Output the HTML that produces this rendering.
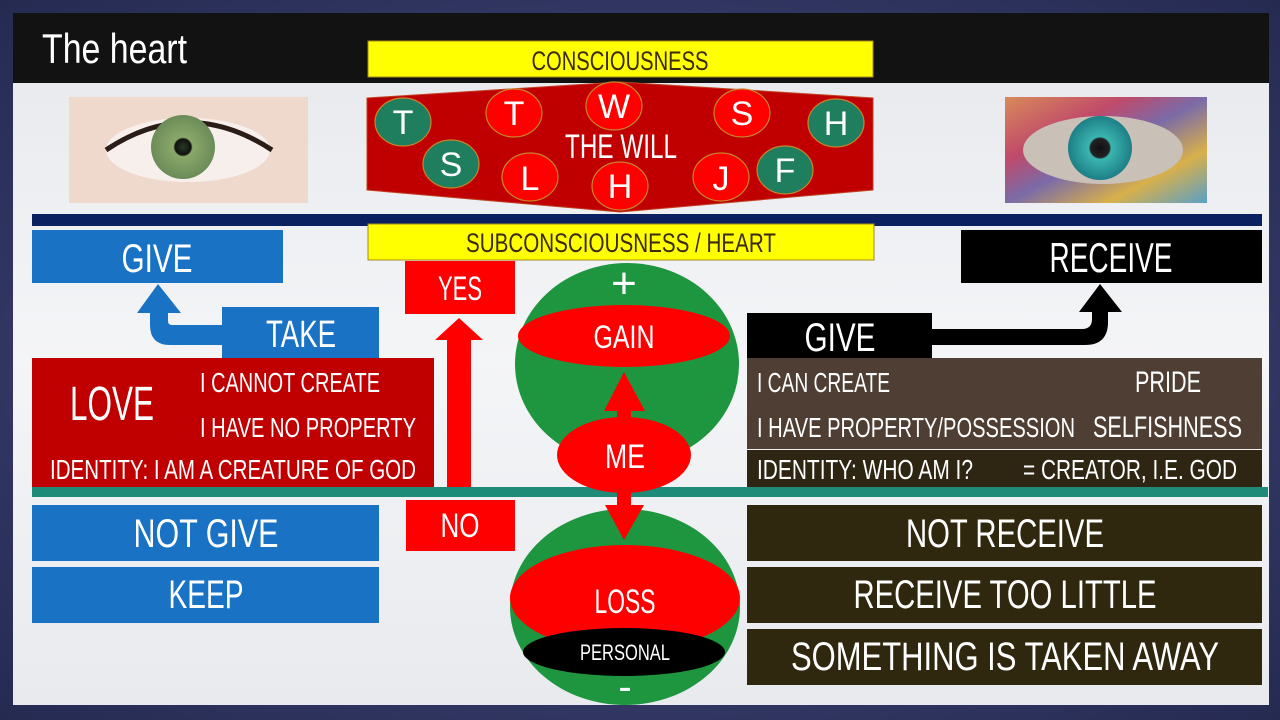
<!DOCTYPE html>
<html><head><meta charset="utf-8"><style>
html,body{margin:0;padding:0;width:1280px;height:720px;overflow:hidden;background:#2e3560}
svg{display:block}
text{font-family:"Liberation Sans Narrow","Liberation Sans",sans-serif;fill:#fff}
</style></head><body>
<svg width="1280" height="720" viewBox="0 0 1280 720" xmlns="http://www.w3.org/2000/svg">
<defs>
<radialGradient id="bg" cx="50%" cy="50%" r="75%"><stop offset="0" stop-color="#4a4f86"/><stop offset="1" stop-color="#23284e"/></radialGradient>
<linearGradient id="pane" x1="0" y1="0" x2="0" y2="1"><stop offset="0" stop-color="#e6e8ec"/><stop offset="0.5" stop-color="#f4f5f7"/><stop offset="1" stop-color="#e8eaee"/></linearGradient>
<radialGradient id="iris1"><stop offset="0" stop-color="#2a3a20"/><stop offset="0.25" stop-color="#111"/><stop offset="0.3" stop-color="#8aa86a"/><stop offset="1" stop-color="#6b8c58"/></radialGradient>
<radialGradient id="iris2"><stop offset="0" stop-color="#111"/><stop offset="0.3" stop-color="#222"/><stop offset="0.35" stop-color="#3bb5b0"/><stop offset="1" stop-color="#1d7f86"/></radialGradient>
<linearGradient id="mosaic" x1="0" y1="0" x2="1" y2="1"><stop offset="0" stop-color="#d98a5a"/><stop offset="0.3" stop-color="#c04a6a"/><stop offset="0.5" stop-color="#7a6aa8"/><stop offset="0.75" stop-color="#d8b04a"/><stop offset="1" stop-color="#5aa0c8"/></linearGradient>
</defs>
<rect width="1280" height="720" fill="url(#bg)"/>
<rect x="13" y="13" width="1256" height="692" fill="url(#pane)"/>
<rect x="13" y="13" width="1256" height="70" fill="#121212"/>
<text x="42" y="63" font-size="42" textLength="145" lengthAdjust="spacingAndGlyphs">The heart</text>

<rect x="69" y="97" width="239" height="106" fill="#efd9cc"/>
<ellipse cx="188" cy="150" rx="82" ry="32" fill="#f7efec"/>
<path d="M106 150 Q188 95 272 150" stroke="#2a1c16" stroke-width="5" fill="none"/>
<circle cx="183" cy="147" r="32" fill="url(#iris1)"/>
<rect x="1005" y="97" width="202" height="106" fill="url(#mosaic)"/>
<ellipse cx="1103" cy="150" rx="80" ry="34" fill="#c9c0b8"/>
<circle cx="1100" cy="148" r="32" fill="url(#iris2)"/>

<rect x="368" y="41" width="505" height="36" fill="#ffff00" stroke="#a88a1a" stroke-width="1"/>
<text x="620" y="70" font-size="27" text-anchor="middle" style="fill:#3a2a10" textLength="177" lengthAdjust="spacingAndGlyphs">CONSCIOUSNESS</text>

<polygon points="367,98 620,82 873,98 873,190 620,212 367,190" fill="#c00000" stroke="#c04020" stroke-width="1"/>
<g stroke="#c8842a" stroke-width="1.2">
<ellipse cx="403" cy="122" rx="28" ry="24" fill="#1e7e5e"/>
<ellipse cx="451" cy="164" rx="28" ry="24" fill="#1e7e5e"/>
<ellipse cx="514" cy="113" rx="28" ry="24" fill="#ff0000"/>
<ellipse cx="530" cy="177" rx="28" ry="24" fill="#ff0000"/>
<ellipse cx="614" cy="106" rx="28" ry="24" fill="#ff0000"/>
<ellipse cx="620" cy="186" rx="28" ry="24" fill="#ff0000"/>
<ellipse cx="742" cy="113" rx="28" ry="24" fill="#ff0000"/>
<ellipse cx="721" cy="177" rx="28" ry="24" fill="#ff0000"/>
<ellipse cx="785" cy="170" rx="28" ry="24" fill="#1e7e5e"/>
<ellipse cx="836" cy="123" rx="28" ry="24" fill="#1e7e5e"/>
</g>
<g font-size="34" text-anchor="middle">
<text x="403" y="134">T</text><text x="451" y="176">S</text><text x="514" y="125">T</text>
<text x="530" y="190">L</text><text x="614" y="118">W</text><text x="620" y="198">H</text>
<text x="742" y="125">S</text><text x="721" y="190">J</text><text x="785" y="182">F</text><text x="836" y="135">H</text>
</g>
<text x="621" y="158" font-size="34" text-anchor="middle" textLength="112" lengthAdjust="spacingAndGlyphs">THE WILL</text>

<rect x="32" y="214" width="1230" height="12" fill="#0b2060"/>

<ellipse cx="627" cy="364" rx="112" ry="101" fill="#1e9640"/>

<rect x="368" y="224" width="506" height="36" fill="#ffff00" stroke="#a88a1a" stroke-width="1"/>
<text x="621" y="252" font-size="27" text-anchor="middle" style="fill:#3a2a10" textLength="310" lengthAdjust="spacingAndGlyphs">SUBCONSCIOUSNESS / HEART</text>

<rect x="32" y="230" width="251" height="53" fill="#1a72c4"/>
<text x="157" y="272" font-size="40" text-anchor="middle" textLength="71" lengthAdjust="spacingAndGlyphs">GIVE</text>
<path d="M150 313 V325 Q150 345 170 345 H222 V325 H172 Q168 325 168 321 V313 H181 L158 284 L137 313 Z" fill="#1a72c4"/>
<rect x="222" y="307" width="157" height="51" fill="#1a72c4"/>
<text x="301" y="347" font-size="38" text-anchor="middle" textLength="70" lengthAdjust="spacingAndGlyphs">TAKE</text>
<rect x="32" y="358" width="402" height="129" fill="#c00000"/>
<text x="70" y="420" font-size="48" textLength="84" lengthAdjust="spacingAndGlyphs">LOVE</text>
<text x="200" y="392" font-size="28" textLength="180" lengthAdjust="spacingAndGlyphs">I CANNOT CREATE</text>
<text x="200" y="437" font-size="28" textLength="216" lengthAdjust="spacingAndGlyphs">I HAVE NO PROPERTY</text>
<text x="50" y="479" font-size="28" textLength="366" lengthAdjust="spacingAndGlyphs">IDENTITY: I AM A CREATURE OF GOD</text>
<rect x="32" y="505" width="347" height="56" fill="#1a72c4"/>
<text x="206" y="547" font-size="40" text-anchor="middle" textLength="145" lengthAdjust="spacingAndGlyphs">NOT GIVE</text>
<rect x="32" y="567" width="347" height="56" fill="#1a72c4"/>
<text x="206" y="608" font-size="40" text-anchor="middle" textLength="75" lengthAdjust="spacingAndGlyphs">KEEP</text>

<rect x="405" y="261" width="110" height="53" fill="#ff0000"/>
<text x="460" y="300" font-size="34" text-anchor="middle" textLength="44" lengthAdjust="spacingAndGlyphs">YES</text>
<polygon points="447,487 447,340 435,340 459,318 483,340 471,340 471,487" fill="#ff0000"/>
<rect x="406" y="500" width="109" height="51" fill="#ff0000"/>
<text x="460" y="537" font-size="34" text-anchor="middle" textLength="39" lengthAdjust="spacingAndGlyphs">NO</text>

<text x="624" y="298" font-size="44" text-anchor="middle">+</text>
<ellipse cx="624" cy="336" rx="106" ry="31" fill="#ff0000"/>
<text x="624" y="348" font-size="32" text-anchor="middle" textLength="61" lengthAdjust="spacingAndGlyphs">GAIN</text>

<ellipse cx="625" cy="607" rx="115" ry="98" fill="#1e9640"/>
<ellipse cx="625" cy="598" rx="115" ry="53" fill="#ff0000"/>
<ellipse cx="624" cy="652" rx="101" ry="24" fill="#000"/>
<text x="625" y="613" font-size="34" text-anchor="middle" textLength="61" lengthAdjust="spacingAndGlyphs">LOSS</text>
<text x="625" y="660" font-size="22" text-anchor="middle" textLength="90" lengthAdjust="spacingAndGlyphs">PERSONAL</text>
<text x="625" y="700" font-size="40" text-anchor="middle">-</text>

<rect x="32" y="487" width="1236" height="10" fill="#1e8a78"/>

<polygon points="617,420 617,411 604,411 624,372 645,411 631,411 631,420" fill="#ff0000"/>
<polygon points="617,480 617,505 605,505 624,540 644,505 631,505 631,480" fill="#ff0000"/>
<ellipse cx="624" cy="455" rx="67" ry="38" fill="#ff0000"/>
<text x="625" y="468" font-size="34" text-anchor="middle" textLength="40" lengthAdjust="spacingAndGlyphs">ME</text>

<rect x="961" y="230" width="301" height="53" fill="#000"/>
<text x="1111" y="272" font-size="42" text-anchor="middle" textLength="123" lengthAdjust="spacingAndGlyphs">RECEIVE</text>
<path d="M932 329 H1082 Q1092 329 1092 319 V312 H1079 L1100 284 L1122 312 H1108 V322 Q1108 345 1085 345 H932 Z" fill="#000"/>
<rect x="747" y="313" width="185" height="45" fill="#000"/>
<text x="840" y="351" font-size="40" text-anchor="middle" textLength="71" lengthAdjust="spacingAndGlyphs">GIVE</text>
<rect x="747" y="358" width="515" height="91" fill="#4e3e33"/>
<text x="757" y="392" font-size="28" textLength="133" lengthAdjust="spacingAndGlyphs">I CAN CREATE</text>
<text x="1135" y="392" font-size="30" textLength="66" lengthAdjust="spacingAndGlyphs">PRIDE</text>
<text x="757" y="437" font-size="28" textLength="318" lengthAdjust="spacingAndGlyphs">I HAVE PROPERTY/POSSESSION</text>
<text x="1093" y="437" font-size="30" textLength="149" lengthAdjust="spacingAndGlyphs">SELFISHNESS</text>
<rect x="747" y="450" width="515" height="37" fill="#2e2612"/>
<text x="757" y="479" font-size="28" textLength="216" lengthAdjust="spacingAndGlyphs">IDENTITY: WHO AM I?</text>
<text x="1023" y="479" font-size="28" textLength="214" lengthAdjust="spacingAndGlyphs">= CREATOR, I.E. GOD</text>
<rect x="747" y="505" width="515" height="56" fill="#30280e"/>
<text x="1005" y="547" font-size="40" text-anchor="middle" textLength="198" lengthAdjust="spacingAndGlyphs">NOT RECEIVE</text>
<rect x="747" y="567" width="515" height="56" fill="#30280e"/>
<text x="1005" y="608" font-size="40" text-anchor="middle" textLength="303" lengthAdjust="spacingAndGlyphs">RECEIVE TOO LITTLE</text>
<rect x="747" y="629" width="515" height="56" fill="#30280e"/>
<text x="1005" y="670" font-size="40" text-anchor="middle" textLength="428" lengthAdjust="spacingAndGlyphs">SOMETHING IS TAKEN AWAY</text>
</svg>
</body></html>
